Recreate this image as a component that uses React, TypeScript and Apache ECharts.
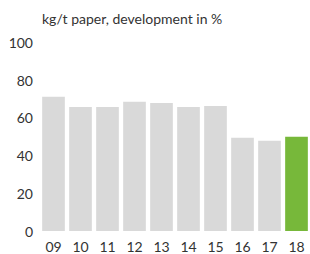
import React, { useEffect, useRef } from "react";
import * as echarts from "echarts";

const categories = ["09", "10", "11", "12", "13", "14", "15", "16", "17", "18"];
const values = [71.2, 65.8, 65.8, 68.6, 67.9, 65.8, 66.3, 49.5, 47.9, 50.0];
const yTicks = [0, 20, 40, 60, 80, 100];
const unitLabel = "kg/t paper, development in %";

const GRAY = "#d9d9d9";
const GREEN = "#77b83a";
const TEXT = "#333333";
const FONT = "Lato, 'Open Sans', sans-serif";

export default function App() {
  const ref = useRef<HTMLDivElement>(null);
  useEffect(() => {
    if (!ref.current) return;
    const chart = echarts.init(ref.current, null, { renderer: "svg" });
    chart.setOption({
      animation: false,
      title: {
        text: unitLabel,
        left: 42,
        top: 11,
        padding: 0,
        textStyle: { fontSize: 14, fontWeight: "normal", color: TEXT, fontFamily: FONT },
      },
      grid: { left: 40, right: -3, top: 42.5, bottom: 23, containLabel: false },
      xAxis: {
        type: "category",
        data: categories,
        axisLine: { show: false },
        axisTick: { show: false },
        axisLabel: { color: TEXT, fontSize: 14, margin: 8, fontFamily: FONT },
      },
      yAxis: {
        type: "value",
        min: yTicks[0],
        max: yTicks[yTicks.length - 1],
        interval: 20,
        axisLine: { show: false },
        axisTick: { show: false },
        splitLine: { show: false },
        axisLabel: { color: TEXT, fontSize: 14, margin: 7, fontFamily: FONT },
      },
      series: [
        {
          type: "bar",
          data: values.map((v, i) => ({
            value: v,
            itemStyle: { color: i === values.length - 1 ? GREEN : GRAY },
          })),
          barCategoryGap: "16%",
        },
      ],
    });
    return () => chart.dispose();
  }, []);
  return <div ref={ref} style={{ width: 310, height: 254, position: "absolute", left: 0, top: 0 }} />;
}
